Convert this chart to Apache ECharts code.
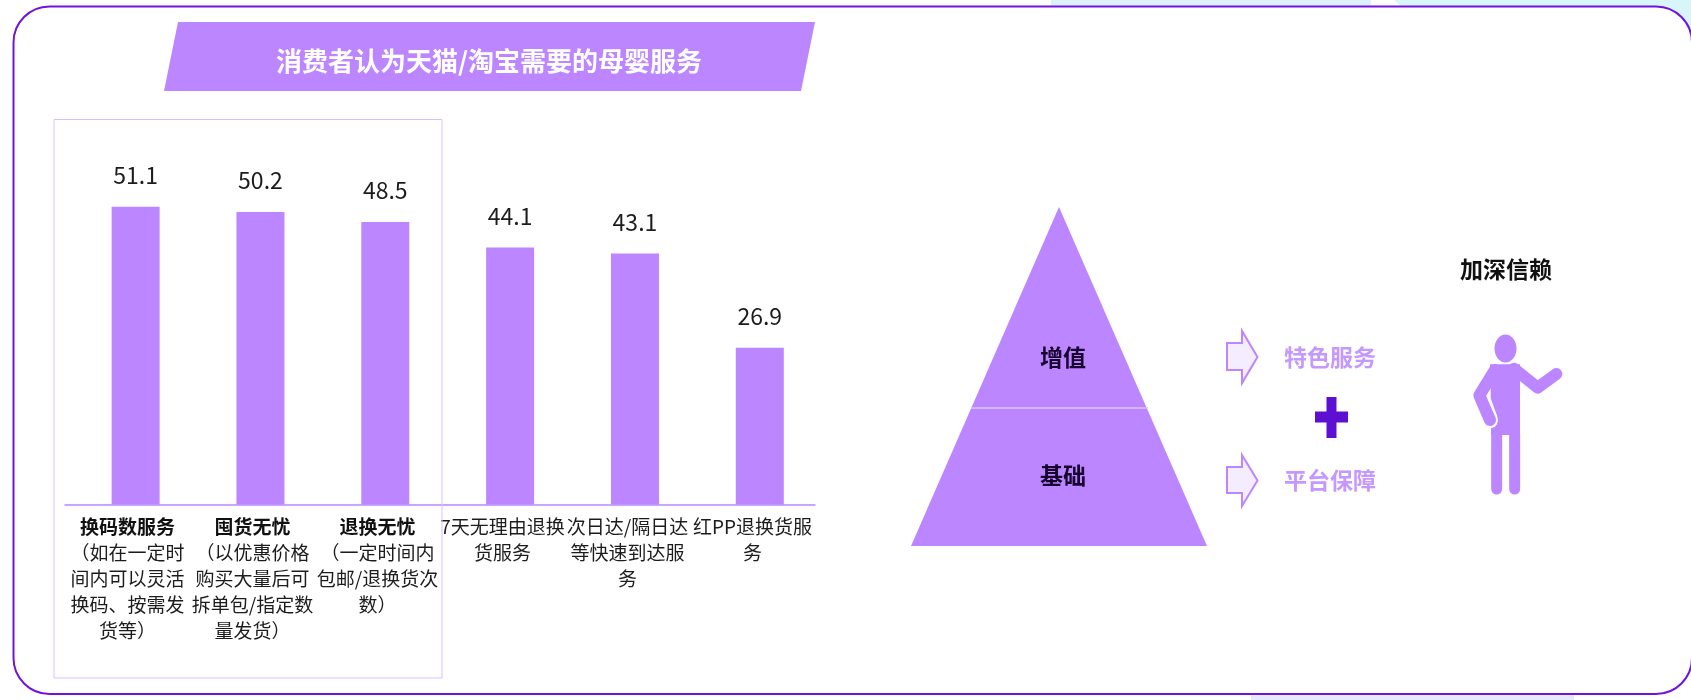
<!DOCTYPE html>
<html>
<head>
<meta charset="utf-8">
<style>html,body{margin:0;padding:0;background:#fff}#chart{width:1691px;height:700px}</style>
<script src="https://cdn.jsdelivr.net/npm/echarts@6/dist/echarts.min.js"></script>
</head>
<body>
<div id="chart"></div>
<script>
const categories = [
  '换码数服务\n（如在一定时\n间内可以灵活\n换码、按需发\n货等）',
  '囤货无忧\n（以优惠价格\n购买大量后可\n拆单包/指定数\n量发货）',
  '退换无忧\n（一定时间内\n包邮/退换货次\n数）',
  '7天无理由退换\n货服务',
  '次日达/隔日达\n等快速到达服\n务',
  '红PP退换货服\n务'
];
const shares = [51.1, 50.2, 48.5, 44.1, 43.1, 26.9];
const highlightedCount = 3;
const chartTitle = '消费者认为天猫/淘宝需要的母婴服务';
const pyramidLayers = ['增值', '基础'];
const outcomes = ['特色服务', '平台保障'];
const closingText = '加深信赖';

const FONT = '"Noto Sans CJK SC","Noto Sans",sans-serif';
const PURPLE = '#BB86FF';
const DEEP = '#7212DE';

const boldFont = size => `bold ${size}px ${FONT}`;
const label = (text, x, y, size, fill) => ({
  type: 'text', z: 20,
  style: { text, x, y, align: 'center', verticalAlign: 'middle', font: boldFont(size), fill }
});
const poly = (points, fill, extra, z) => ({
  type: 'polygon', z: z === undefined ? 10 : z, shape: { points },
  style: Object.assign({ fill }, extra || {})
});
const limb = (points, width, stroke, z) => ({
  type: 'polyline', z: z || 10, shape: { points },
  style: { fill: 'none', stroke, lineWidth: width, lineCap: 'round', lineJoin: 'round' }
});
// Block arrow pointing right, used beside the pyramid
const arrow = (top, bottom, shaftTop, shaftBottom) => poly(
  [[1227, shaftTop], [1242, shaftTop], [1242, top], [1257.5, (top + bottom) / 2],
   [1242, bottom], [1242, shaftBottom], [1227, shaftBottom]],
  '#F4ECFF', { stroke: PURPLE, lineWidth: 2, lineJoin: 'miter' }
);
// Person figure, traced on a local grid and placed at (1440, 320)
const px = p => [1440 + p[0] / 3, 320 + p[1] / 3];
const figure = [
  { type: 'ellipse', z: 10, shape: { cx: 1505.5, cy: 348.5, rx: 11, ry: 14 }, style: { fill: PURPLE } },
  poly([[150, 133], [240, 133], [240, 345], [153, 345], [153, 325], [172, 305], [172, 290], [152, 235], [152, 190]].map(px), PURPLE),
  limb([[222, 146], [293, 203], [349, 162]].map(px), 12, PURPLE),
  limb([[165, 150], [118, 226], [150, 300]].map(px), 12, PURPLE, 12),
  limb([[146, 285], [151, 302]].map(px), 15, '#fff', 11),
  limb([[170, 345], [170, 507]].map(px), 11, PURPLE),
  limb([[224, 345], [224, 507]].map(px), 11, PURPLE)
];

const chart = echarts.init(document.getElementById('chart'), null, { renderer: 'canvas' });
chart.setOption({
  animation: false,
  backgroundColor: '#fff',
  title: {
    text: chartTitle, left: 484, top: 56, textAlign: 'center', textVerticalAlign: 'middle', z: 30,
    textStyle: { color: '#fff', fontFamily: FONT, fontWeight: 'bold', fontSize: 26 }
  },
  // Labelled axis sits in the first grid, bars in the second, shifted slightly right
  grid: [
    { left: 65, width: 750, top: 155, height: 349.4 },
    { left: 73.2, width: 749, top: 155, height: 349.4 }
  ],
  xAxis: [
    {
      type: 'category', gridIndex: 0, data: categories,
      axisTick: { show: false },
      axisLine: { lineStyle: { color: PURPLE, width: 1.5 } },
      axisLabel: {
        interval: 0, margin: 9, color: '#1c1c1c', fontFamily: FONT, fontSize: 19, lineHeight: 26,
        formatter: (value, index) => value.split('\n').map((line, i) =>
          (i === 0 && index < highlightedCount ? `{h|${line}}` : `{n|${line}}`)).join('\n'),
        rich: {
          h: { fontFamily: FONT, fontSize: 19, fontWeight: 'bold', lineHeight: 26, color: '#111' },
          n: { fontFamily: FONT, fontSize: 19, lineHeight: 26, color: '#1c1c1c' }
        }
      }
    },
    { type: 'category', gridIndex: 1, data: categories, axisLine: { show: false }, axisTick: { show: false }, axisLabel: { show: false } }
  ],
  yAxis: [
    { type: 'value', gridIndex: 0, min: 0, max: 60, show: false },
    { type: 'value', gridIndex: 1, min: 0, max: 60, show: false }
  ],
  series: [{
    type: 'bar', xAxisIndex: 1, yAxisIndex: 1, data: shares, barWidth: 48,
    itemStyle: { color: PURPLE },
    label: { show: true, position: 'top', distance: 20, color: '#1c1c1c', fontFamily: FONT, fontSize: 23 },
    z: 3
  }],
  graphic: { elements: [
    // Strips of the page behind the card
    { type: 'rect', z: -20, shape: { x: 1051, y: 0, width: 320, height: 8 }, style: { fill: '#DDF1FB' } },
    poly([[1394, 0], [1691, 0], [1691, 40], [1640, 40], [1640, 8], [1403, 8]], '#D8F5FA', {}, -20),
    { type: 'rect', z: -20, shape: { x: 1251, y: 692, width: 323, height: 8 }, style: { fill: '#E6E8FB' } },
    // Rounded card
    { type: 'rect', z: -10, shape: { x: 13.5, y: 6.5, width: 1678.5, height: 687.5, r: 36 }, style: { fill: '#fff', stroke: DEEP, lineWidth: 2 } },
    // Title banner
    poly([[178, 22], [815, 22], [801, 91], [164, 91]], PURPLE),
    // Frame around the highlighted services
    { type: 'rect', z: 10, shape: { x: 54, y: 119.5, width: 388, height: 558.5 }, style: { fill: 'none', stroke: '#D9BFFF', lineWidth: 1 } },
    // Pyramid
    poly([[1059, 207], [1207, 546], [911, 546]], PURPLE),
    { type: 'line', z: 11, shape: { x1: 971, y1: 408, x2: 1148, y2: 408 }, style: { stroke: '#DCC2FF', lineWidth: 1.5 } },
    label(pyramidLayers[0], 1063, 357, 23, '#17002E'),
    label(pyramidLayers[1], 1063, 475, 23, '#17002E'),
    arrow(331, 383, 343, 370),
    arrow(455, 506, 467, 493),
    label(outcomes[0], 1330, 357, 23, '#C498FF'),
    label(outcomes[1], 1330, 480, 23, '#C498FF'),
    // Plus sign between the two outcomes
    { type: 'rect', z: 10, shape: { x: 1315, y: 411.5, width: 33, height: 11 }, style: { fill: '#5D0FD2' } },
    { type: 'rect', z: 10, shape: { x: 1326.5, y: 397, width: 10, height: 41 }, style: { fill: '#5D0FD2' } },
    label(closingText, 1506, 269, 23, '#111'),
    ...figure
  ] }
});
</script>
</body>
</html>
